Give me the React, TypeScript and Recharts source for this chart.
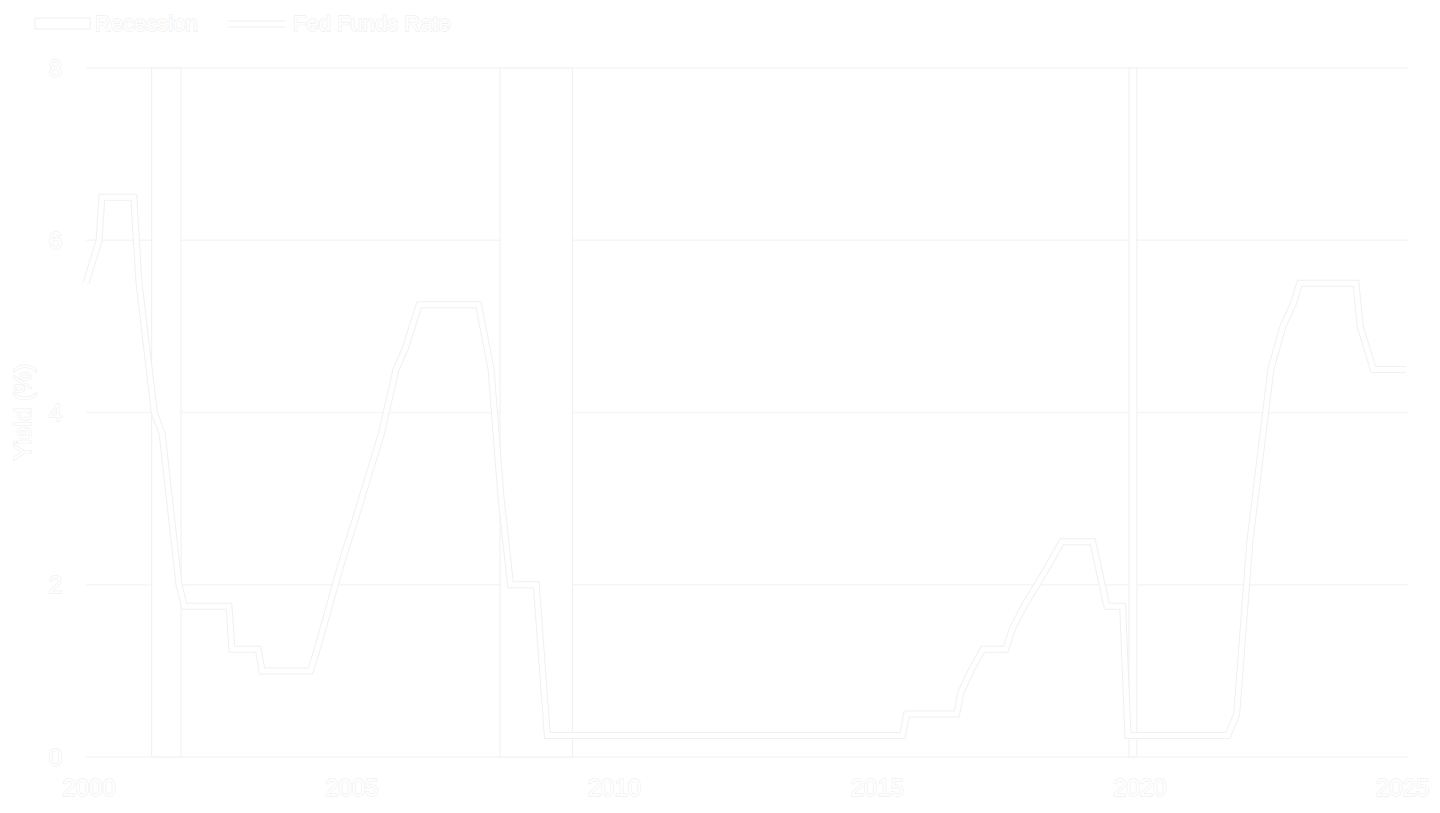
import React from 'react';
import { LineChart, Line, XAxis, YAxis, CartesianGrid, ReferenceArea } from 'recharts';

// Fed funds target (upper bound) as [decimal year, %]
const years = [
  2000.0, 2000.25, 2000.3, 2000.91, 2001.01, 2001.3, 2001.45, 2001.77, 2001.87,
  2002.72, 2002.78, 2003.28, 2003.35, 2004.27, 2004.4, 2004.63, 2004.86, 2005.12,
  2005.37, 2005.62, 2005.9, 2006.08, 2006.34, 2007.47, 2007.71, 2007.9, 2008.08,
  2008.57, 2008.69, 2008.78, 2015.54, 2015.62, 2016.57, 2016.65, 2016.84, 2017.07,
  2017.5, 2017.64, 2017.85, 2018.1, 2018.34, 2018.57, 2019.16, 2019.43, 2019.73,
  2019.83, 2021.73, 2021.9, 2022.15, 2022.3, 2022.55, 2022.78, 2022.97, 2023.1,
  2024.17, 2024.25, 2024.5, 2025.12,
];
const rates = [
  5.5, 6.0, 6.5, 6.5, 5.5, 4.0, 3.75, 2.0, 1.75,
  1.75, 1.25, 1.25, 1.0, 1.0, 1.25, 1.75, 2.25, 2.75,
  3.25, 3.75, 4.5, 4.75, 5.25, 5.25, 4.5, 3.0, 2.0,
  2.0, 1.0, 0.25, 0.25, 0.5, 0.5, 0.75, 1.0, 1.25,
  1.25, 1.5, 1.75, 2.0, 2.25, 2.5, 2.5, 1.75, 1.75,
  0.25, 0.25, 0.5, 2.5, 3.25, 4.5, 5.0, 5.25, 5.5,
  5.5, 5.0, 4.5, 4.5,
];

const recessionStart = [2001.25, 2007.88, 2019.85];
const recessionEnd = [2001.81, 2009.26, 2020.0];

const xTicks = [2000, 2005, 2010, 2015, 2020, 2025];
const yTicks = [0, 2, 4, 6, 8];

const data = years.map((t, i) => ({ t, rate: rates[i] }));

const halo = '#f0f0f0';
const textStyle = { fill: '#ffffff', stroke: halo, strokeWidth: 1.3, paintOrder: 'stroke' as const };

export default function App() {
  return (
    <div
      style={{
        position: 'absolute',
        top: 0,
        left: 0,
        width: 1440,
        height: 813,
        background: '#ffffff',
        fontFamily: '"Liberation Sans", Arial, sans-serif',
      }}
    >
      <LineChart
        width={1440}
        height={813}
        data={data}
        margin={{ top: 68, right: 32, bottom: 0, left: 0 }}
        style={{ position: 'absolute', top: 0, left: 0 }}
      >
        <CartesianGrid vertical={false} stroke="#f6f6f6" strokeWidth={1.5} />
        <XAxis
          dataKey="t"
          type="number"
          domain={[2000, 2025.16]}
          ticks={xTicks}
          height={56}
          axisLine={false}
          tickLine={false}
          tickSize={0}
          tickMargin={22}
          tick={{ fontSize: 24, dx: 3, ...textStyle }}
        />
        <YAxis
          domain={[0, 8]}
          ticks={yTicks}
          width={86}
          axisLine={false}
          tickLine={false}
          tickSize={0}
          tickMargin={24}
          tick={{ fontSize: 24, ...textStyle }}
        />
        {recessionStart.map((s, i) => (
          <ReferenceArea
            key={s}
            x1={s}
            x2={recessionEnd[i]}
            y1={0}
            y2={8}
            fill="#ffffff"
            fillOpacity={1}
            stroke={halo}
            strokeWidth={1}
            ifOverflow="visible"
          />
        ))}
        <Line
          dataKey="rate"
          type="linear"
          stroke={halo}
          strokeWidth={7}
          dot={false}
          activeDot={false}
          isAnimationActive={false}
        />
        <Line
          dataKey="rate"
          type="linear"
          stroke="#ffffff"
          strokeWidth={5}
          dot={false}
          activeDot={false}
          isAnimationActive={false}
        />
      </LineChart>

      {/* legend and y-axis title */}
      <svg width={480} height={813} style={{ position: 'absolute', top: 0, left: 0, pointerEvents: 'none' }}>
        <rect x={35} y={18} width={55} height={11} fill="#ffffff" stroke={halo} strokeWidth={1} />
        <text x={95} y={31} fontSize={22} {...textStyle}>Recession</text>
        <line x1={228} y1={24} x2={286} y2={24} stroke={halo} strokeWidth={7} />
        <line x1={228} y1={24} x2={286} y2={24} stroke="#ffffff" strokeWidth={5} />
        <text x={293} y={31} fontSize={22} {...textStyle}>Fed Funds Rate</text>
        <text
          x={22}
          y={412}
          transform="rotate(-90 22 412)"
          textAnchor="middle"
          dominantBaseline="central"
          fontSize={24}
          {...textStyle}
        >
          Yield (%)
        </text>
      </svg>
    </div>
  );
}
